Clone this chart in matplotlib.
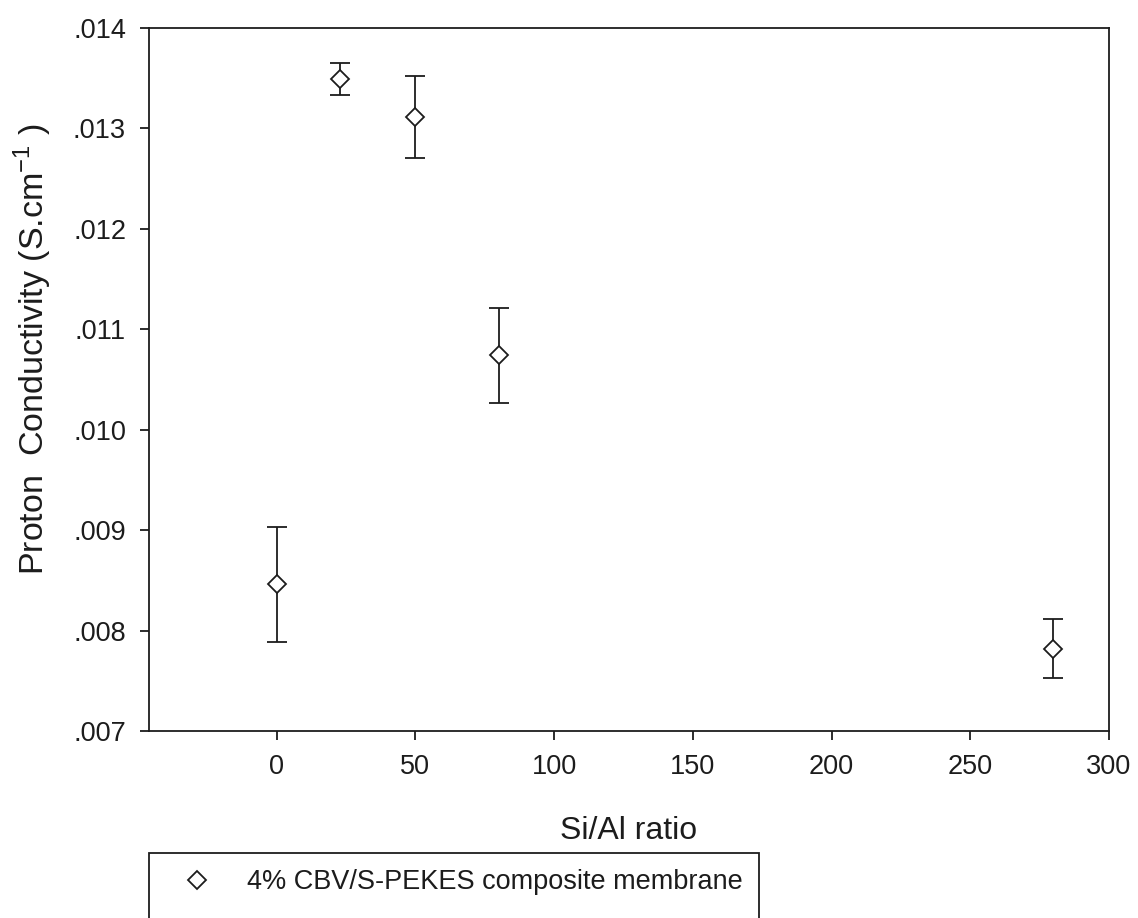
import numpy as np
import matplotlib
matplotlib.use('Agg')
import matplotlib.pyplot as plt
from matplotlib.patches import Rectangle
from matplotlib.ticker import FuncFormatter

#_______________________________________________________________________________________________________________________
# DATA - proton conductivity vs Si/Al ratio of the zeolite filler

si_al_ratio = [0, 23, 50, 80, 280]
conductivity = [0.00846, 0.01349, 0.01311, 0.01074, 0.00782]
conductivity_err = [0.00057, 0.00016, 0.00041, 0.00047, 0.00029]
series_label = '4% CBV/S-PEKES composite membrane'

x_ticks = [0, 50, 100, 150, 200, 250, 300]
y_ticks = [0.007, 0.008, 0.009, 0.010, 0.011, 0.012, 0.013, 0.014]

#_______________________________________________________________________________________________________________________
# PLOT

plt.rcParams['font.family'] = ['Liberation Sans', 'DejaVu Sans']
plt.rcParams['mathtext.fontset'] = 'custom'
plt.rcParams['mathtext.rm'] = 'Liberation Sans'
ink = '#1c1c1c'

fig = plt.figure(figsize=(11.38, 9.18), dpi=100)
ax = fig.add_axes([0.1309, 0.2037, 0.8436, 0.766])

eb = ax.errorbar(si_al_ratio, conductivity, yerr=conductivity_err, fmt='D', color=ink,
                 markerfacecolor='white', markeredgecolor=ink, markersize=9.5, markeredgewidth=1.3,
                 elinewidth=1.3, capsize=7.5, capthick=1.3)

ax.set_xlim(-46, 300)
ax.set_ylim(0.007, 0.014)
ax.set_xticks(x_ticks)
ax.set_yticks(y_ticks)
# SigmaPlot style: no leading zero on the y labels
ax.yaxis.set_major_formatter(FuncFormatter(lambda v, pos: ('%.3f' % v)[1:]))

for s in ax.spines.values():
    s.set_color(ink)
    s.set_linewidth(1.3)
ax.tick_params(direction='out', length=6.5, width=1.3, color=ink, labelcolor=ink,
               labelsize=19.5, pad=10)

ax.set_xlabel('Si/Al ratio', fontsize=23, color=ink, labelpad=26)
ax.set_ylabel('Proton  Conductivity (S.cm$^{\\mathrm{-1}}$ )', fontsize=24.5, color=ink)
ax.yaxis.set_label_coords(-0.099, 0.543)

# legend box hangs off the bottom of the page
fig.add_artist(Rectangle((0.1309, -0.1), 0.536, 0.1708, transform=fig.transFigure,
                         fill=False, edgecolor=ink, linewidth=1.3))
ax.legend([eb.lines[0]], [series_label], loc='upper left', bbox_to_anchor=(0.1309, 0.0708),
          bbox_transform=fig.transFigure, frameon=False, fontsize=19.5, borderpad=0.6,
          borderaxespad=0, handlelength=2.36, handletextpad=0.67, labelcolor=ink)

fig.savefig('out.png', dpi=100, facecolor='white')
